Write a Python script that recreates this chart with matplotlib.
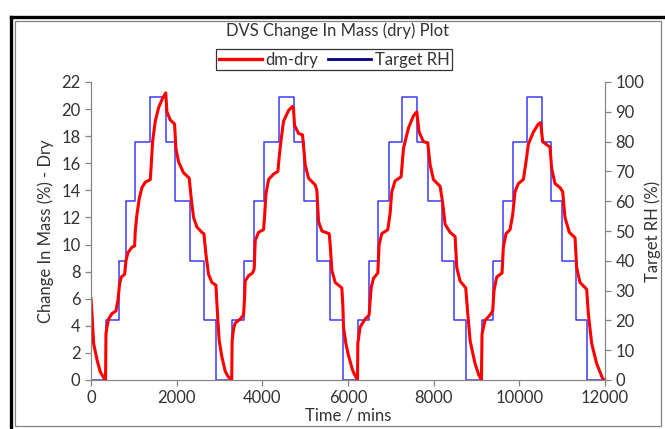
import matplotlib
matplotlib.use('Agg')
import matplotlib.pyplot as plt
from matplotlib.lines import Line2D
from matplotlib.patches import Rectangle

plt.rcParams['font.family'] = ['Lato', 'DejaVu Sans']

# target RH program (step function, value holds until next time)
rh_time = [0, 349, 645, 816, 1018, 1384, 1749, 1967, 2317, 2643, 2916,
           3289, 3561, 3810, 4044, 4378, 4728, 4962, 5273, 5584, 5880,
           6229, 6501, 6711, 6968, 7271, 7621, 7878, 8205, 8485, 8749,
           9121, 9394, 9620, 9845, 10172, 10537, 10732, 11004, 11315, 11572, 12000]
rh_target = [0, 20, 40, 60, 80, 95, 80, 60, 40, 20, 0,
             20, 40, 60, 80, 95, 80, 60, 40, 20, 0,
             20, 40, 60, 80, 95, 80, 60, 40, 20, 0,
             20, 40, 60, 80, 95, 80, 60, 40, 20, 0, 0]

# change in mass (dry)
dm_time = [0, 23, 61, 139, 217, 300, 340, 349, 373, 411, 489, 582, 629, 668, 707, 785,
           816, 862, 956, 1018, 1034, 1072, 1127, 1189, 1267, 1384, 1407, 1438, 1500,
           1578, 1671, 1745, 1772, 1850, 1951, 1982, 2044, 2161, 2293, 2340, 2395, 2472,
           2589, 2636, 2682, 2744, 2822, 2916, 2962, 2993, 3056, 3133, 3200, 3285,
           3295, 3330, 3367, 3484, 3561, 3585, 3600, 3678, 3771, 3810, 3834, 3911,
           4028, 4051, 4083, 4145, 4261, 4363, 4394, 4433, 4495, 4612, 4705, 4728,
           4752, 4845, 4938, 4969, 5001, 5078, 5234, 5273, 5312, 5390, 5561, 5584,
           5623, 5701, 5856, 5880, 5895, 5950, 6012, 6100, 6152, 6222,
           6229, 6283, 6400, 6493, 6540, 6594, 6696, 6727, 6789, 6929, 6983, 7022,
           7100, 7240, 7295, 7411, 7528, 7606, 7660, 7761, 7862, 7917, 7995, 8150,
           8205, 8267, 8384, 8500, 8539, 8617, 8749, 8796, 8851, 8967, 9050, 9115,
           9129, 9199, 9316, 9378, 9409, 9471, 9596, 9627, 9689, 9783, 9845, 9899,
           9977, 10094, 10156, 10210, 10327, 10444, 10498, 10545, 10623, 10716, 10755,
           10833, 10950, 11012, 11066, 11167, 11300, 11339, 11416, 11572, 11611, 11689,
           11806, 11900, 11946, 12000]
dm_dry = [6.0, 4.9, 2.7, 1.5, 0.6, 0.15, 0.0, 3.4, 3.9, 4.5, 4.9, 5.1, 5.9, 7.1, 7.6, 7.8,
          8.8, 9.4, 9.8, 9.9, 11.0, 12.2, 13.4, 14.2, 14.6, 14.8, 15.9, 17.6, 19.1,
          20.1, 20.8, 21.2, 19.8, 19.2, 18.9, 17.1, 16.1, 15.3, 14.9, 13.4, 12.0, 11.3,
          10.9, 10.8, 9.3, 7.8, 7.2, 7.0, 4.4, 2.9, 1.7, 0.65, 0.25, 0.0,
          2.9, 3.8, 4.2, 4.5, 4.8, 6.0, 7.3, 7.7, 7.9, 8.2, 10.3, 10.9,
          11.1, 12.0, 13.7, 14.8, 15.2, 15.4, 16.5, 17.6, 19.1, 19.9, 20.2, 20.0,
          18.8, 18.2, 18.1, 17.0, 15.9, 14.9, 14.4, 14.0, 11.7, 11.0, 10.8, 10.0,
          8.1, 7.2, 6.8, 5.5, 3.9, 2.7, 1.8, 0.8, 0.4, 0.0,
          2.7, 3.9, 4.5, 4.8, 6.8, 7.5, 7.9, 10.0, 10.8, 11.1, 12.3, 13.9,
          14.7, 15.0, 17.1, 18.6, 19.5, 19.8, 18.3, 17.6, 17.5, 15.9, 14.8, 14.3,
          13.2, 11.5, 10.9, 10.6, 8.3, 7.3, 6.8, 4.9, 2.9, 1.2, 0.4, 0.0,
          3.4, 4.4, 4.8, 5.1, 6.6, 7.6, 7.9, 9.8, 10.8, 11.1, 12.2, 13.9,
          14.5, 14.8, 16.1, 17.4, 18.3, 18.9, 19.0, 17.6, 17.4, 17.2, 15.6,
          14.5, 14.2, 13.9, 12.0, 10.9, 10.5, 8.3, 7.2, 6.7, 4.9, 2.7,
          1.2, 0.45, 0.1, 0.0]

W, H = 665, 429
fig = plt.figure(figsize=(W / 100, H / 100), dpi=100)

# double frame like the spreadsheet export
fig.add_artist(Line2D([11 / W, 11 / W], [0, 1 - 16.5 / H], color='black', lw=2.4,
                      transform=fig.transFigure, solid_capstyle='projecting'))
fig.add_artist(Line2D([11 / W, 1], [1 - 16.5 / H, 1 - 16.5 / H], color='black', lw=2.4,
                      transform=fig.transFigure, solid_capstyle='projecting'))
fig.add_artist(Rectangle((15 / W, 3 / H), 646 / W, 1 - 24 / H, fill=False,
                         edgecolor='#808080', lw=0.9, transform=fig.transFigure))

ax = fig.add_axes([91 / W, 1 - 380 / H, 514 / W, 298 / H])
ax2 = ax.twinx()
ax.set_zorder(ax2.get_zorder() + 1)
ax.patch.set_visible(False)

ax2.plot(rh_time, rh_target, drawstyle='steps-post', color='#3a3aff', lw=1.1)
ax.plot(dm_time, dm_dry, color='#ff0000', lw=2.2)

ax.set_xlim(0, 12000)
ax.set_ylim(0, 22)
ax2.set_ylim(0, 100)
ax.set_xticks(range(0, 12001, 2000))
ax.set_yticks(range(0, 23, 2))
ax2.set_yticks(range(0, 101, 10))

spine_c = '#868686'
for a in (ax, ax2):
    for s in a.spines.values():
        s.set_color(spine_c)
    a.spines['top'].set_visible(False)
    a.tick_params(colors=spine_c, labelcolor='#333333', labelsize=12, length=4, width=0.9)

ax.set_xlabel('Time / mins', fontsize=12, color='#333333', labelpad=1)
ax.set_ylabel('Change In Mass (%) - Dry', fontsize=12, color='#333333', labelpad=5)
ax2.set_ylabel('Target RH (%)', fontsize=12, color='#333333', labelpad=0)

fig.text(0.507, 1 - 31 / H, 'DVS Change In Mass (dry) Plot', ha='center', va='center',
         fontsize=12, color='#333333')

handles = [Line2D([], [], color='#ff0000', lw=2.4), Line2D([], [], color='#000080', lw=2)]
leg = fig.legend(handles, ['dm-dry', 'Target RH'], loc='upper center',
                 bbox_to_anchor=(334 / W, 1 - 49 / H), ncol=2, fontsize=12,
                 frameon=True, fancybox=False, handlelength=2.6, handletextpad=0.2,
                 columnspacing=0.6, borderpad=0.15, borderaxespad=0)
leg.get_frame().set_edgecolor('black')
leg.get_frame().set_linewidth(0.9)
for t in leg.get_texts():
    t.set_color('#333333')

fig.savefig('out.png', dpi=100)
